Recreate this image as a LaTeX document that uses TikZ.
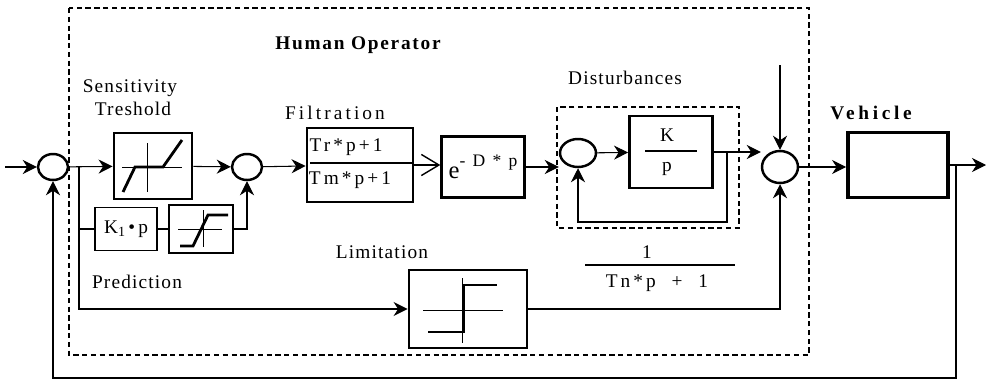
\documentclass[tikz,border=0pt]{standalone}
\usepackage{fontspec}
\setmainfont{Liberation Serif}
\newfontfamily\lblfont[LetterSpace=6]{Liberation Serif}
\newfontfamily\widefont[LetterSpace=16]{Liberation Serif}
\newfontfamily\headfont[LetterSpace=9]{Liberation Serif}
\newfontfamily\vehfont[LetterSpace=19]{Liberation Serif}
\usetikzlibrary{arrows.meta,positioning,shapes.geometric}

\begin{document}
\begin{tikzpicture}[x=0.02cm,y=-0.02cm,
  blk/.style={draw,line width=1.6pt,inner sep=0pt},
  thinblk/.style={draw,line width=1.1pt,inner sep=0pt},
  sum/.style={draw,ellipse,line width=1.4pt,inner sep=0pt},
  arr/.style={-{Stealth[length=8pt,width=8pt]},line width=0.6pt},
  wire/.style={line width=0.6pt},
  lbl/.style={font=\lblfont\fontsize{11}{13}\selectfont},
  wide/.style={font=\widefont\fontsize{11}{13}\selectfont},
  curve/.style={line width=1.6pt},
  axis/.style={line width=0.5pt},
  frame/.style={dash pattern=on 3pt off 2pt,line width=1.1pt}]
  \useasboundingbox (0,0) rectangle (986,383);
  \draw[frame] (69,8) rectangle (809,355);
  \draw[frame] (557,107) rectangle (739,228);
  \node[font=\headfont\bfseries\fontsize{11}{13}\selectfont] (ho) at (358,45) {Human Operator};
  \node[lbl,align=center] (sens) at (130,98) {Sensitivity\\\ Treshold};
  \node[wide] (filtlbl) at (335,113) {Filtration};
  \node[lbl] (distlbl) at (625,78) {Disturbances};
  \node[font=\vehfont\bfseries\fontsize{11}{13}\selectfont] (vehlbl) at (871,113) {Vehicle};
  \node[lbl] (limlbl) at (382,252) {Limitation};
  \node[lbl] (predlbl) at (137,282) {Prediction};
  \coordinate (in) at (5,167);
  \node[sum,minimum width=0.6cm,minimum height=0.52cm] (sum1) at (53,167) {};
  \coordinate (b1) at (79,167);
  \node[blk,minimum width=1.56cm,minimum height=1.32cm] (dz) at (153,166) {};
  \node[sum,minimum width=0.6cm,minimum height=0.52cm] (sum2) at (247,167) {};
  \node[blk,minimum width=2.12cm,minimum height=1.48cm] (filt) at (360,165) {};
  \node[wide] (filtnum) at (346,147) {Tr*p+1};
  \node[wide] (filtden) at (350,180) {Tm*p+1};
  \node[draw,line width=1.4pt,inner sep=0pt,minimum width=1.66cm,minimum height=1.22cm,font=\widefont\fontsize{14}{16}\selectfont] (exp) at (483,167) {e\raisebox{1.1ex}{\fontsize{10}{10}\selectfont - D * p}};
  \node[sum,minimum width=0.72cm,minimum height=0.56cm] (sum3) at (578,153) {};
  \node[blk,minimum width=1.66cm,minimum height=1.44cm] (kp) at (671,152) {};
  \node[lbl] (kn) at (667,135) {K};
  \node[lbl] (kd) at (667,169) {p};
  \coordinate (kb) at (727,152);
  \coordinate (kfb) at (727,222);
  \coordinate (top) at (780,65);
  \node[sum,minimum width=0.72cm,minimum height=0.64cm] (sum4) at (780,167) {};
  \node[draw,line width=2.2pt,minimum width=2cm,minimum height=1.3cm] (veh) at (898,165) {};
  \coordinate (vb) at (956,165);
  \coordinate (out) at (986,165);
  \coordinate (fb) at (956,378);
  \node[thinblk,minimum width=1.24cm,minimum height=0.86cm,lbl] (k1) at (126,229) {K\raisebox{-0.4ex}{\fontsize{8}{8}\selectfont 1}\,\textbullet\,p};
  \node[thinblk,minimum width=1.28cm,minimum height=0.96cm] (sat) at (201,229) {};
  \node[blk,minimum width=2.36cm,minimum height=1.56cm] (lim) at (468,309) {};
  \node[lbl] (tnnum) at (647,252) {1};
  \node[wide] (tnden) at (657,283) {Tn*p \ + \ 1};
  \draw[axis] (122,167) -- (182,167) (147,143) -- (147,192);
  \draw[curve] (123,192) -- (135,167) -- (163,167) -- (182,140);
  \draw[axis] (178,229) -- (222,229) (203,210) -- (203,247);
  \draw[curve] (180,246) -- (193,246) -- (208,215) -- (228,215);
  \draw[axis] (423,310) -- (503,310) (462,278) -- (462,343);
  \draw[curve] (428,332) -- (464,332) -- (464,285) -- (497,285);
  \draw[line width=1.2pt] (310,163) -- (413,163);
  \draw[line width=1pt] (645,151) -- (697,151);
  \draw[line width=0.8pt] (585,265) -- (735,265);
  \draw[arr] (in) -- (sum1);
  \draw[arr] (sum1) -- (dz);
  \draw[arr] (dz) -- (sum2);
  \draw[arr] (sum2) -- (filt);
  \draw[-{Straight Barb[length=10pt,width=12pt,line width=0.8pt]},line width=0.8pt] (filt.east) -- (filt.east -| exp.west);
  \draw[arr] (exp.east) -- (exp.east -| sum3.west);
  \draw[arr] (sum3) -- (kp);
  \draw[arr] (kp.east) -- (kp.east -| sum4.west);
  \draw[arr] (kb) -- (kfb) -| (sum3.south);
  \draw[arr] (top) -- (sum4);
  \draw[arr] (sum4) -- (sum4 -| veh.west);
  \draw[arr] (veh.east) -- (out);
  \draw[arr] (vb) -- (fb) -| (sum1.south);
  \draw[wire] (b1) |- (k1);
  \draw[wire] (k1) -- (sat);
  \draw[arr] (sat) -| (sum2);
  \draw[arr] (b1) |- (lim);
  \draw[arr] (lim) -| (sum4);
\end{tikzpicture}
\end{document}
